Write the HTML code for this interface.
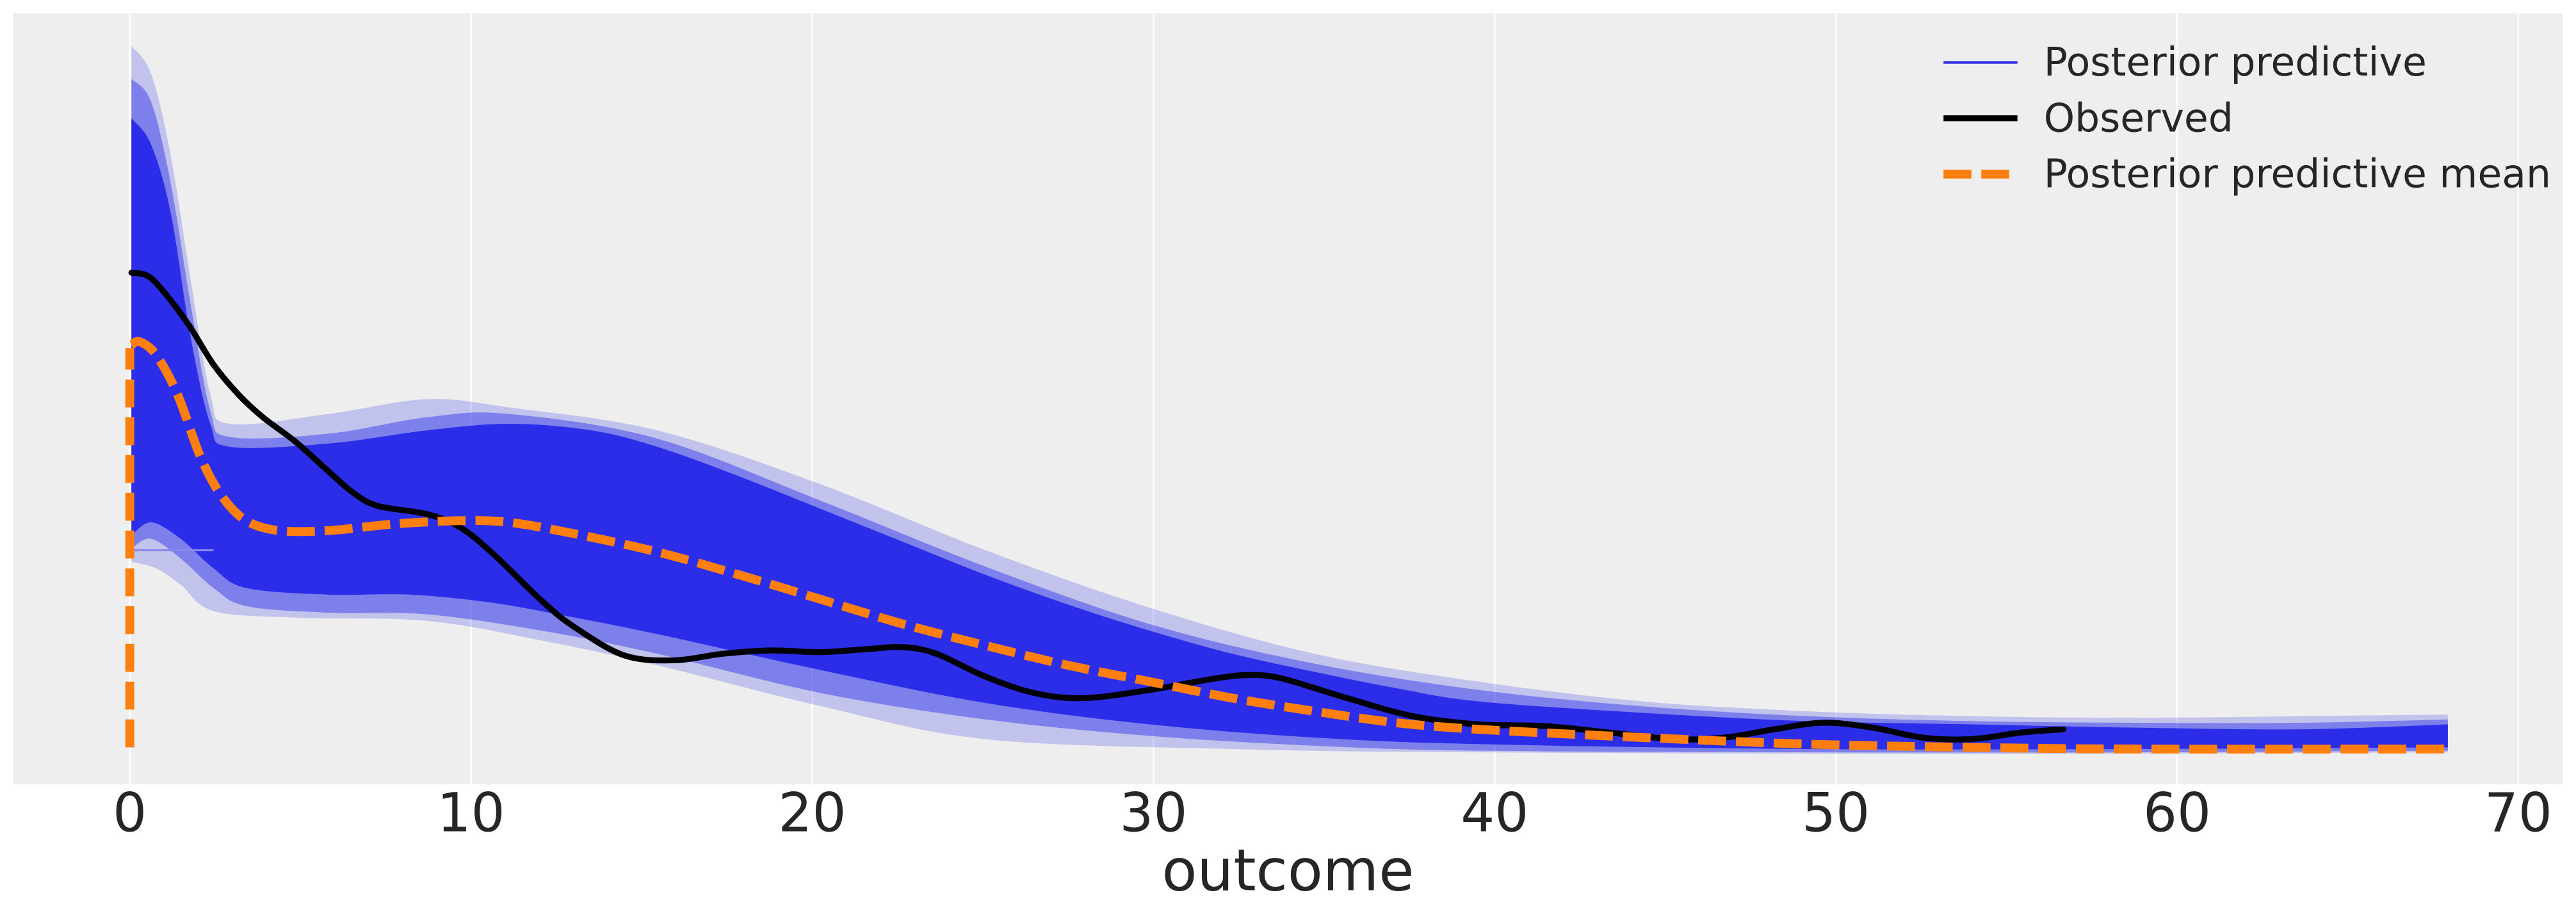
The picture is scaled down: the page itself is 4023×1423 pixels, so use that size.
<!DOCTYPE html>
<html><head><meta charset="utf-8"><style>
html,body{margin:0;padding:0;background:#fff;width:4023px;height:1423px;overflow:hidden}
svg{display:block}
text{font-family:"DejaVu Sans","Liberation Sans",sans-serif;fill:#262626}
</style></head><body>
<svg width="4023" height="1423" viewBox="0 0 1568 554.6" xmlns="http://www.w3.org/2000/svg">
<rect x="8" y="8" width="1552" height="469.5" fill="#eeeeee"/>
<g stroke="#ffffff" stroke-width="1">
<line x1="79" y1="8" x2="79" y2="477.5"/><line x1="286.7" y1="8" x2="286.7" y2="477.5"/>
<line x1="494.4" y1="8" x2="494.4" y2="477.5"/><line x1="702.1" y1="8" x2="702.1" y2="477.5"/>
<line x1="909.8" y1="8" x2="909.8" y2="477.5"/><line x1="1117.5" y1="8" x2="1117.5" y2="477.5"/>
<line x1="1325.2" y1="8" x2="1325.2" y2="477.5"/><line x1="1532.9" y1="8" x2="1532.9" y2="477.5"/>
</g>
<path class="sm closed" fill="#2b2de8" fill-opacity="0.22" data-p="80,28 92,45 104,95 116,170 128,240 140,258 200,252 260,243 310,248 400,262 500,295 600,335 700,370 800,398 900,415 1000,427 1100,433 1200,436 1300,437 1400,436 1490,435|1490,458 1200,459 900,458 750,456 600,450 500,430 400,405 330,390 260,378 180,376 130,372 110,356 95,346 80,342"/>
<path class="sm closed" fill="#2b2de8" fill-opacity="0.45" data-p="80,48 92,62 104,112 116,185 128,250 140,266 200,264 260,254 310,252 400,267 500,305 600,345 700,380 800,404 900,420 1000,430 1100,436 1200,439 1300,440 1400,440 1490,438|1490,457 1300,458 1100,458 900,457 800,454 700,448 600,438 500,422 400,398 330,384 260,374 200,373 150,369 130,358 110,340 92,328 80,334"/>
<path class="sm closed" fill="#2b2de8" data-p="80,72 92,88 104,130 116,205 128,258 140,272 200,270 260,262 310,258 360,262 400,272 450,290 500,310 550,330 600,350 650,368 700,384 750,398 800,409 850,419 900,427 1000,434 1100,439 1200,441 1300,443 1400,444 1490,441|1490,455 1300,456 1100,456 900,453 800,449 700,441 600,428 500,408 400,386 350,376 300,367 250,362 200,362 150,358 130,346 110,328 92,318 80,326"/>
<line x1="80" y1="335" x2="130" y2="335" stroke="#8888ee" stroke-width="1.2"/>
<path class="sm" fill="none" stroke="#000" stroke-width="3.6" stroke-linejoin="round" stroke-linecap="round" data-p="80,166 90,168 100,178 115,198 130,222 145,240 160,254 180,269 200,287 215,300 230,308 260,313 280,321 300,337 330,366 350,382 380,399 410,402 440,398 470,396 500,397 530,395 550,394 570,398 600,412 630,422 660,425 700,420 740,413 760,411 780,413 820,425 860,436 900,441 940,442 980,446 1020,450 1050,449 1080,444 1110,440 1140,443 1170,449 1200,450 1230,446 1256,444"/>
<path class="sm" fill="none" stroke="#ff7f0e" stroke-width="5.4" stroke-dasharray="17,6" data-p="80,210 85,208 95,216 108,240 122,278 135,302 150,317 170,323 200,323 240,319 280,317 310,318 350,325 400,336 450,350 500,365 550,380 600,393 650,405 700,415 750,425 800,433 850,440 900,444 1000,449 1100,453 1200,455 1300,456 1490,456"/>
<line x1="79" y1="455" x2="79" y2="212" stroke="#ff7f0e" stroke-width="5.4" stroke-dasharray="17,6"/>
<g font-size="32.5" text-anchor="middle">
<text x="79" y="506">0</text><text x="286.7" y="506">10</text><text x="494.4" y="506">20</text>
<text x="702.1" y="506">30</text><text x="909.8" y="506">40</text><text x="1117.5" y="506">50</text>
<text x="1325.2" y="506">60</text><text x="1532.9" y="506">70</text>
</g>
<text x="784" y="542" font-size="35" text-anchor="middle">outcome</text>
<line x1="1183" y1="38" x2="1228" y2="38" stroke="#2b2de8" stroke-width="1.6"/>
<line x1="1183" y1="72" x2="1228" y2="72" stroke="#000" stroke-width="3.6"/>
<line x1="1183" y1="106" x2="1228" y2="106" stroke="#ff7f0e" stroke-width="5.4" stroke-dasharray="17,6"/>
<g font-size="24">
<text x="1244" y="46">Posterior predictive</text>
<text x="1244" y="80">Observed</text>
<text x="1244" y="114">Posterior predictive mean</text>
</g>
</svg>
<script>
function parse(s){return s.trim().split(/\s+/).map(function(t){return t.split(',').map(Number);});}
function seg(a,move){
  var d=(move?'M':'L')+a[0][0]+','+a[0][1];
  for(var i=0;i<a.length-1;i++){
    var p0=a[i-1]||a[i],p1=a[i],p2=a[i+1],p3=a[i+2]||a[i+1];
    var c1x=p1[0]+(p2[0]-p0[0])/6,c1y=p1[1]+(p2[1]-p0[1])/6;
    var c2x=p2[0]-(p3[0]-p1[0])/6,c2y=p2[1]-(p3[1]-p1[1])/6;
    d+=' C'+c1x+','+c1y+' '+c2x+','+c2y+' '+p2[0]+','+p2[1];
  }
  return d;
}
document.querySelectorAll('path.sm').forEach(function(el){
  var parts=el.getAttribute('data-p').split('|');
  var d=seg(parse(parts[0]),true);
  if(parts[1]) d+=' '+seg(parse(parts[1]),false);
  if(el.classList.contains('closed')) d+=' Z';
  el.setAttribute('d',d);
});
</script>
</body></html>
